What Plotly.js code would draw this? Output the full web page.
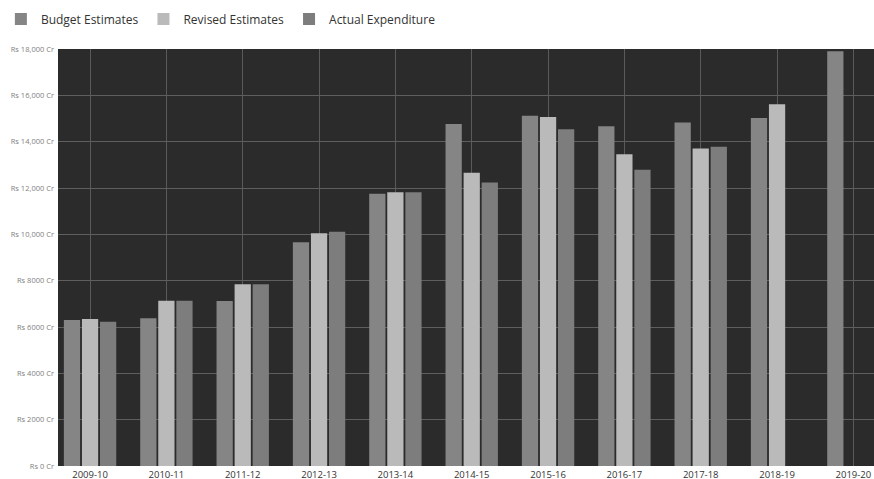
<!DOCTYPE html>
<html>
<head>
<meta charset="utf-8">
<script src="https://cdn.plot.ly/plotly-3.0.1.min.js"></script>
<style>
  html, body { margin: 0; padding: 0; background: #ffffff; overflow: hidden; }
  #chart { width: 874px; height: 479px; }
</style>
</head>
<body>
<div id="chart"></div>
<script>
// Financial years on the category axis
const years = ['2009-10', '2010-11', '2011-12', '2012-13', '2013-14', '2014-15',
               '2015-16', '2016-17', '2017-18', '2018-19', '2019-20'];

// Amounts in Rs crore
const budgetEstimates   = [6300, 6380, 7120, 9660, 11750, 14760, 15120, 14670, 14830, 15020, 17900];
const revisedEstimates  = [6350, 7130, 7850, 10050, 11820, 12660, 15060, 13460, 13710, 15620, null];
const actualExpenditure = [6230, 7130, 7850, 10110, 11820, 12240, 14540, 12790, 13780, null, null];

// Y-axis ticks and their labels
const yTickValues = [0, 2000, 4000, 6000, 8000, 10000, 12000, 14000, 16000, 18000];
const yTickLabels = ['Rs 0 Cr', 'Rs 2000 Cr', 'Rs 4000 Cr', 'Rs 6000 Cr', 'Rs 8000 Cr',
                     'Rs 10,000 Cr', 'Rs 12,000 Cr', 'Rs 14,000 Cr', 'Rs 16,000 Cr', 'Rs 18,000 Cr'];

const series = [
  { name: 'Budget Estimates',   y: budgetEstimates,   color: '#858585' },
  { name: 'Revised Estimates',  y: revisedEstimates,  color: '#bababa' },
  { name: 'Actual Expenditure', y: actualExpenditure, color: '#7d7d7d' }
];

const traces = series.map(s => ({
  type: 'bar',
  name: s.name,
  x: years,
  y: s.y,
  marker: { color: s.color, line: { width: 0 } },
  hoverinfo: 'x+y+name'
}));

const layout = {
  width: 874,
  height: 479,
  margin: { l: 58, r: 0, t: 49, b: 13, pad: 0 },
  paper_bgcolor: '#ffffff',
  plot_bgcolor: '#2b2b2b',
  barmode: 'group',
  bargap: 0.29,
  bargroupgap: 0.1,
  font: { family: 'Open Sans, sans-serif', color: '#333333' },
  showlegend: true,
  legend: {
    orientation: 'h',
    x: -0.07, xanchor: 'left',
    y: 1.107, yanchor: 'top',
    font: { size: 12, color: '#333333', family: 'Open Sans, sans-serif' },
    bgcolor: 'rgba(0,0,0,0)',
    traceorder: 'normal',
    itemclick: false
  },
  xaxis: {
    type: 'category',
    range: [-0.42, 10.27],
    showgrid: true,
    gridcolor: '#5a5a5a',
    gridwidth: 1,
    showline: false,
    zeroline: false,
    ticks: '',
    tickfont: { size: 9.5, color: '#333333', family: 'Open Sans, sans-serif' },
    ticklabelstandoff: 1,
    fixedrange: true
  },
  yaxis: {
    range: [0, 18000],
    tickvals: yTickValues,
    ticktext: yTickLabels,
    showgrid: true,
    gridcolor: '#5e5e5e',
    gridwidth: 1,
    zeroline: false,
    showline: false,
    ticks: '',
    tickfont: { size: 7.5, color: '#808080', family: 'Open Sans, sans-serif' },
    ticklabelstandoff: 3,
    fixedrange: true
  }
};

Plotly.newPlot('chart', traces, layout, { displayModeBar: false, staticPlot: true });
</script>
</body>
</html>
